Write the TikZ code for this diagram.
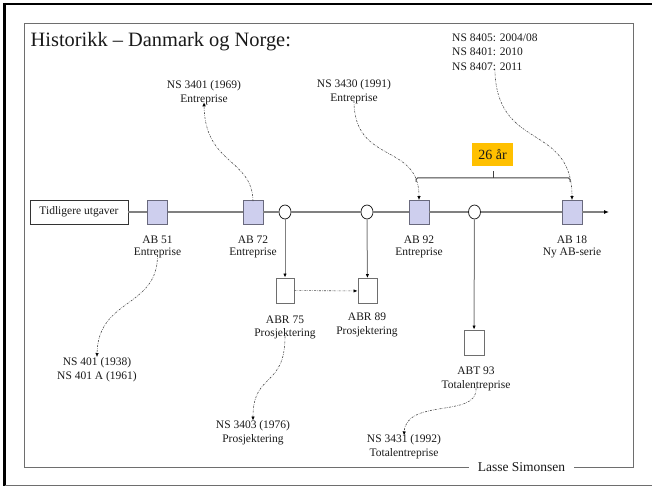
\documentclass[tikz,border=0pt]{standalone}
\usepackage{fontspec}
\setmainfont{Liberation Serif}
\usetikzlibrary{arrows.meta,shapes.geometric}
\definecolor{sqfill}{RGB}{206,207,238}
\definecolor{sqdraw}{RGB}{105,105,125}
\definecolor{tlgray}{RGB}{128,128,128}
\definecolor{orng}{RGB}{255,192,0}
\definecolor{txt}{RGB}{25,25,25}
\definecolor{frm}{RGB}{110,110,110}
\begin{document}
\begin{tikzpicture}[x=1pt,y=-1pt,
  fs/.style={font=\fontsize{11.5}{#1}\selectfont},
  sq/.style={draw=sqdraw, fill=sqfill, line width=0.9pt, minimum width=20pt, minimum height=24pt, inner sep=0pt},
  wbox/.style={draw=frm, fill=white, line width=0.9pt, minimum width=19pt, minimum height=25pt, inner sep=0pt},
  circ/.style={ellipse, draw=black!85, fill=white, line width=0.8pt, minimum width=12pt, minimum height=14pt, inner sep=0pt},
  lbl/.style={align=center, text=txt, inner sep=0pt, anchor=north},
  tl/.style={draw=tlgray, line width=1.1pt},
  dd/.style={draw=black!70, line width=0.6pt, dash pattern=on 2pt off 1.2pt on 0.5pt off 1.2pt, -{Latex[length=4pt,width=3.4pt,color=black]}},
  va/.style={draw=tlgray, line width=1pt, -{Latex[length=4pt,width=3.4pt,color=black]}},
  brk/.style={draw=black!75, line width=1pt}]
\useasboundingbox (0,0) rectangle (652,486);
% outer frame
\draw[black, line width=2.2pt] (3,4.3) -- (652,4.3);
\draw[black, line width=2.6pt] (4.6,3) -- (4.6,486);
\draw[frm, line width=0.9pt] (4.6,485) -- (652,485);
% inner frame
\draw[frm, line width=0.9pt] (24.5,23) rectangle (633.3,467.7);
\node[font=\fontsize{13.5}{16}\selectfont, fill=white, inner xsep=9pt, inner ysep=1pt, text=txt] (lasse) at (521.5,467) {Lasse Simonsen};
% title
\node[font=\fontsize{20.4}{24}\selectfont, anchor=base west, inner sep=0pt, text=txt] (title) at (30.5,46.7) {Historikk – Danmark og Norge:};

% timeline nodes
\node[draw=black!80, fill=white, line width=0.8pt, minimum width=98pt, minimum height=24pt, inner sep=0pt, fs=14, text=txt] (tid) at (79,212) {Tidligere utgaver};
\node[sq] (a51) at (157.5,212.5) {};
\node[sq] (a72) at (253,212.5) {};
\node[circ] (c1) at (285,212) {};
\node[circ] (c2) at (367,212) {};
\node[sq] (a92) at (419,212.5) {};
\node[circ] (c3) at (474.5,212) {};
\node[sq] (a18) at (572,212.5) {};
\coordinate (tend) at (609,212);

\draw[tl] (tid.east) -- (a51.west|-tid.east);
\draw[tl] (a51.east|-tid.east) -- (a72.west|-tid.east);
\draw[tl] (a72.east|-tid.east) -- (c1.west);
\draw[tl] (c1.east) -- (c2.west);
\draw[tl] (c2.east) -- (a92.west|-tid.east);
\draw[tl] (a92.east|-tid.east) -- (c3.west);
\draw[tl] (c3.east) -- (a18.west|-tid.east);
\draw[tl, -{Latex[length=5pt,width=4pt,color=black]}] (a18.east|-tid.east) -- (tend);

% lower boxes
\node[wbox, minimum width=18pt] (r75) at (285,290.5) {};
\node[wbox] (r89) at (367.5,291) {};
\node[wbox, minimum width=20pt] (t93) at (474,342.5) {};
\draw[va] (c1) -- (r75);
\draw[va] (c2) -- (r89);
\draw[va] (c3) -- (t93);
\draw[dd] (r75) -- (r89);

% labels
\node[lbl, fs=12] (l51) at (157.5,235.5) {AB 51\\Entreprise};
\node[lbl, fs=12] (l72) at (253,235.5) {AB 72\\Entreprise};
\node[lbl, fs=12] (l92) at (419,235.5) {AB 92\\Entreprise};
\node[lbl, fs=12] (l18) at (572,235.5) {AB 18\\Ny AB-serie};
\node[lbl, fs=13.5] (l75) at (285,315.5) {ABR 75\\Prosjektering};
\node[lbl, fs=14] (l89) at (367,313) {ABR 89\\Prosjektering};
\node[lbl, fs=14] (l93) at (476,367) {ABT 93\\Totalentreprise};
\node[lbl, fs=13.5] (n3431) at (404,434.5) {NS 3431 (1992)\\Totalentreprise};
\node[lbl, fs=14.2] (n3403) at (253,420.5) {NS 3403 (1976)\\Prosjektering};
\node[lbl, fs=14] (n401) at (97,357) {NS 401 (1938)\\NS 401 A (1961)};
\node[lbl, fs=14] (n3401) at (204,80.5) {NS 3401 (1969)\\Entreprise};
\node[lbl, fs=14] (n3430) at (354,79) {NS 3430 (1991)\\Entreprise};
\node[lbl, fs=14.5, align=left, anchor=north west] (n84) at (452,33.5) {NS 8405: 2004/08\\NS 8401: 2010\\NS 8407: 2011};

% bracket and label
\coordinate (bl) at (416,182);
\coordinate (br) at (570,182);
\coordinate (bm) at (493,178);
\coordinate (bt) at (493,171);
\draw[brk, rounded corners=1.5pt] (bl) -- (416,178) -- (570,178) -- (br);
\draw[brk] (bm) -- (bt);
\node[fill=orng, minimum width=41pt, minimum height=23pt, inner sep=0pt, font=\fontsize{14}{16}\selectfont, text=txt] (yrs) at (492.5,154.5) {26 år};

% dash-dot curved arrows
\draw[dd] ([yshift=-1pt]a72.north) .. controls (252,158) and (205,165) .. ([yshift=3pt]n3401.south);
\draw[dd] ([yshift=3pt]l51.south) .. controls (158,308) and (98,298) .. (n401.north);
\draw[dd] ([yshift=3pt]l75.south) .. controls (285,388) and (253,372) .. (n3403.north);
\draw[dd] ([yshift=3pt]n3430.south) .. controls (354,165) and (419,142) .. (a92.north);
\draw[dd] ([yshift=2pt]n84.south) .. controls (496,152) and (572,122) .. (a18.north);
\draw[dd] ([yshift=3pt]l93.south) .. controls (478,418) and (406,398) .. ([yshift=-1pt]n3431.north);
\end{tikzpicture}
\end{document}
